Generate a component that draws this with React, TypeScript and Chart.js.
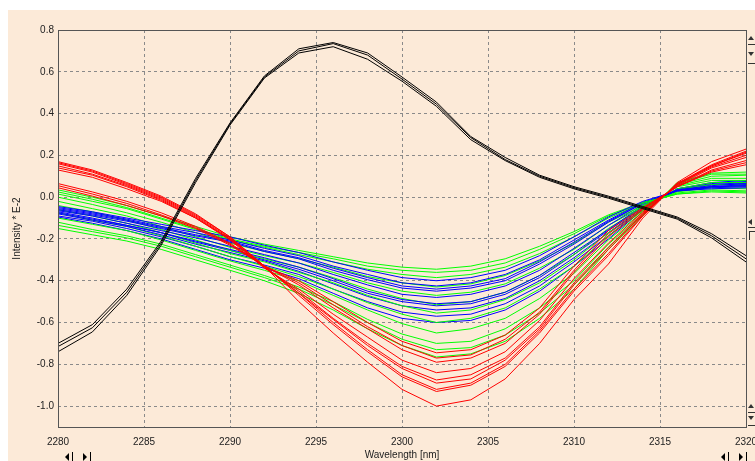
import React, { useEffect, useRef } from "react";
import { Chart, registerables } from "chart.js";

Chart.register(...registerables);

// ---------------- data ----------------
const WAVELENGTHS = [2280, 2282, 2284, 2286, 2288, 2290, 2292, 2294, 2296, 2298, 2300, 2302, 2304, 2306, 2308, 2310, 2312, 2314, 2316, 2318, 2320];
const X_TICKS = [2280, 2285, 2290, 2295, 2300, 2305, 2310, 2315, 2320];
const Y_TICKS = [-1.0, -0.8, -0.6, -0.4, -0.2, 0.0, 0.2, 0.4, 0.6, 0.8];

const BLACK_1 = [-0.70, -0.61, -0.44, -0.21, 0.09, 0.355, 0.58, 0.71, 0.74, 0.69, 0.575, 0.455, 0.29, 0.19, 0.105, 0.05, 0.005, -0.045, -0.095, -0.175, -0.28];
const BLACK_2 = [-0.74, -0.645, -0.47, -0.23, 0.07, 0.345, 0.57, 0.69, 0.72, 0.66, 0.555, 0.435, 0.275, 0.175, 0.095, 0.04, -0.005, -0.055, -0.105, -0.195, -0.31];
const BLACK_3 = [-0.715, -0.625, -0.455, -0.22, 0.08, 0.35, 0.575, 0.70, 0.735, 0.68, 0.565, 0.445, 0.285, 0.18, 0.10, 0.045, 0.0, -0.05, -0.10, -0.185, -0.295];

const RED_1 = [0.17, 0.13, 0.07, 0.005, -0.08, -0.19, -0.33, -0.50, -0.65, -0.79, -0.92, -1.00, -0.97, -0.87, -0.70, -0.49, -0.32, -0.10, 0.07, 0.17, 0.23];
const RED_2 = [0.165, 0.125, 0.065, 0.0, -0.085, -0.19, -0.33, -0.47, -0.61, -0.74, -0.86, -0.93, -0.90, -0.81, -0.65, -0.45, -0.28, -0.09, 0.065, 0.155, 0.22];
const RED_3 = [0.16, 0.12, 0.06, -0.005, -0.09, -0.195, -0.33, -0.46, -0.60, -0.73, -0.85, -0.92, -0.89, -0.80, -0.64, -0.44, -0.27, -0.085, 0.064, 0.15, 0.215];
const RED_4 = [0.15, 0.11, 0.055, -0.01, -0.095, -0.20, -0.335, -0.46, -0.585, -0.71, -0.82, -0.89, -0.87, -0.78, -0.63, -0.42, -0.25, -0.08, 0.06, 0.15, 0.21];
const RED_5 = [0.14, 0.105, 0.05, -0.015, -0.10, -0.20, -0.335, -0.45, -0.58, -0.70, -0.81, -0.875, -0.85, -0.77, -0.62, -0.41, -0.24, -0.075, 0.06, 0.145, 0.20];
const RED_6 = [0.13, 0.095, 0.04, -0.02, -0.10, -0.205, -0.34, -0.44, -0.56, -0.67, -0.78, -0.84, -0.82, -0.74, -0.59, -0.39, -0.22, -0.07, 0.055, 0.14, 0.19];
const RED_7 = [0.065, 0.025, -0.02, -0.075, -0.14, -0.22, -0.33, -0.42, -0.53, -0.63, -0.73, -0.79, -0.77, -0.70, -0.56, -0.36, -0.19, -0.06, 0.05, 0.13, 0.175];
const RED_8 = [0.055, 0.015, -0.03, -0.085, -0.145, -0.225, -0.33, -0.41, -0.515, -0.62, -0.71, -0.77, -0.755, -0.68, -0.55, -0.35, -0.175, -0.055, 0.05, 0.125, 0.165];
const RED_9 = [0.045, 0.005, -0.04, -0.09, -0.15, -0.23, -0.33, -0.40, -0.50, -0.60, -0.69, -0.745, -0.73, -0.66, -0.53, -0.33, -0.16, -0.05, 0.05, 0.12, 0.155];

const GREEN_1 = [0.035, 0.0, -0.04, -0.09, -0.14, -0.19, -0.225, -0.255, -0.285, -0.315, -0.335, -0.345, -0.33, -0.295, -0.235, -0.165, -0.085, -0.025, 0.015, 0.025, 0.02];
const GREEN_2 = [0.025, -0.01, -0.05, -0.10, -0.15, -0.20, -0.235, -0.265, -0.295, -0.33, -0.35, -0.36, -0.35, -0.315, -0.25, -0.175, -0.09, -0.03, 0.015, 0.03, 0.025];
const GREEN_3 = [0.015, -0.02, -0.055, -0.105, -0.155, -0.205, -0.24, -0.275, -0.31, -0.345, -0.37, -0.385, -0.37, -0.335, -0.27, -0.19, -0.10, -0.03, 0.02, 0.035, 0.03];
const GREEN_4 = [0.0, -0.035, -0.075, -0.12, -0.17, -0.22, -0.26, -0.295, -0.335, -0.38, -0.41, -0.43, -0.415, -0.375, -0.305, -0.22, -0.12, -0.04, 0.025, 0.045, 0.04];
const GREEN_5 = [-0.02, -0.055, -0.09, -0.14, -0.19, -0.24, -0.28, -0.315, -0.36, -0.41, -0.45, -0.47, -0.455, -0.415, -0.34, -0.25, -0.135, -0.045, 0.03, 0.05, 0.05];
const GREEN_6 = [-0.04, -0.07, -0.11, -0.155, -0.205, -0.255, -0.295, -0.335, -0.385, -0.44, -0.485, -0.515, -0.50, -0.455, -0.375, -0.275, -0.15, -0.05, 0.035, 0.06, 0.06];
const GREEN_7 = [-0.06, -0.09, -0.125, -0.17, -0.22, -0.27, -0.31, -0.36, -0.41, -0.47, -0.52, -0.555, -0.54, -0.49, -0.41, -0.30, -0.17, -0.06, 0.04, 0.07, 0.07];
const GREEN_8 = [-0.075, -0.11, -0.14, -0.185, -0.235, -0.285, -0.33, -0.38, -0.44, -0.505, -0.56, -0.60, -0.58, -0.53, -0.44, -0.33, -0.185, -0.065, 0.05, 0.08, 0.08];
const GREEN_9 = [-0.10, -0.13, -0.16, -0.205, -0.255, -0.305, -0.35, -0.40, -0.47, -0.54, -0.605, -0.65, -0.63, -0.58, -0.485, -0.365, -0.205, -0.07, 0.055, 0.09, 0.09];
const GREEN_10 = [-0.12, -0.155, -0.185, -0.225, -0.275, -0.325, -0.375, -0.43, -0.50, -0.585, -0.655, -0.70, -0.69, -0.63, -0.53, -0.40, -0.225, -0.08, 0.06, 0.10, 0.105];
const GREEN_11 = [-0.135, -0.165, -0.195, -0.235, -0.285, -0.335, -0.385, -0.44, -0.515, -0.60, -0.68, -0.73, -0.72, -0.66, -0.555, -0.42, -0.24, -0.085, 0.065, 0.11, 0.11];
const GREEN_12 = [-0.15, -0.18, -0.21, -0.25, -0.30, -0.35, -0.40, -0.46, -0.54, -0.63, -0.71, -0.765, -0.75, -0.69, -0.58, -0.44, -0.25, -0.09, 0.07, 0.115, 0.12];

const BLUE_1 = [-0.045, -0.07, -0.10, -0.13, -0.16, -0.19, -0.23, -0.265, -0.31, -0.35, -0.385, -0.40, -0.385, -0.35, -0.28, -0.19, -0.095, -0.02, 0.03, 0.04, 0.045];
const BLUE_2 = [-0.05, -0.075, -0.105, -0.14, -0.17, -0.205, -0.245, -0.28, -0.33, -0.37, -0.41, -0.425, -0.41, -0.37, -0.30, -0.205, -0.11, -0.025, 0.03, 0.045, 0.05];
const BLUE_3 = [-0.055, -0.08, -0.11, -0.145, -0.18, -0.21, -0.255, -0.29, -0.34, -0.385, -0.425, -0.44, -0.425, -0.39, -0.31, -0.215, -0.115, -0.03, 0.03, 0.05, 0.055];
const BLUE_4 = [-0.06, -0.085, -0.115, -0.15, -0.185, -0.215, -0.26, -0.295, -0.35, -0.395, -0.435, -0.45, -0.435, -0.40, -0.32, -0.225, -0.12, -0.03, 0.03, 0.05, 0.055];
const BLUE_5 = [-0.065, -0.09, -0.125, -0.16, -0.195, -0.235, -0.275, -0.315, -0.37, -0.42, -0.465, -0.48, -0.465, -0.425, -0.35, -0.245, -0.135, -0.035, 0.035, 0.05, 0.06];
const BLUE_6 = [-0.07, -0.10, -0.135, -0.17, -0.21, -0.25, -0.29, -0.335, -0.39, -0.45, -0.49, -0.51, -0.50, -0.455, -0.375, -0.265, -0.155, -0.04, 0.035, 0.055, 0.065];
const BLUE_7 = [-0.075, -0.105, -0.135, -0.17, -0.215, -0.255, -0.30, -0.345, -0.40, -0.46, -0.50, -0.52, -0.51, -0.465, -0.385, -0.275, -0.16, -0.045, 0.035, 0.06, 0.065];
const BLUE_8 = [-0.08, -0.11, -0.14, -0.18, -0.225, -0.265, -0.305, -0.355, -0.415, -0.475, -0.52, -0.54, -0.53, -0.485, -0.40, -0.29, -0.17, -0.05, 0.035, 0.06, 0.07];
const BLUE_9 = [-0.09, -0.115, -0.15, -0.19, -0.235, -0.285, -0.325, -0.37, -0.44, -0.50, -0.55, -0.57, -0.56, -0.51, -0.425, -0.31, -0.185, -0.055, 0.04, 0.065, 0.075];
const BLUE_10 = [-0.095, -0.125, -0.16, -0.20, -0.25, -0.30, -0.34, -0.39, -0.46, -0.53, -0.58, -0.60, -0.59, -0.54, -0.45, -0.33, -0.20, -0.06, 0.04, 0.07, 0.08];

const BLACK_SERIES = [BLACK_1, BLACK_2, BLACK_3];
const RED_SERIES = [RED_1, RED_2, RED_3, RED_4, RED_5, RED_6, RED_7, RED_8, RED_9];
const GREEN_SERIES = [GREEN_1, GREEN_2, GREEN_3, GREEN_4, GREEN_5, GREEN_6, GREEN_7, GREEN_8, GREEN_9, GREEN_10, GREEN_11, GREEN_12];
const BLUE_SERIES = [BLUE_1, BLUE_2, BLUE_3, BLUE_4, BLUE_5, BLUE_6, BLUE_7, BLUE_8, BLUE_9, BLUE_10];

// ---------------- styling ----------------
const BG = "rgb(252,234,216)";
const FONT = "'Liberation Sans', Arial, sans-serif";
const TEXT = "#222222";

function toPoints(values: number[]) {
  return WAVELENGTHS.map((x, i) => ({ x, y: values[i] }));
}

function tri(ctx: CanvasRenderingContext2D, pts: number[][]) {
  ctx.beginPath();
  ctx.moveTo(pts[0][0], pts[0][1]);
  for (let i = 1; i < pts.length; i++) ctx.lineTo(pts[i][0], pts[i][1]);
  ctx.closePath();
  ctx.fill();
}

function hline(ctx: CanvasRenderingContext2D, x1: number, x2: number, y: number) {
  ctx.beginPath();
  ctx.moveTo(x1, y + 0.5);
  ctx.lineTo(x2, y + 0.5);
  ctx.stroke();
}

function vline(ctx: CanvasRenderingContext2D, x: number, y1: number, y2: number) {
  ctx.beginPath();
  ctx.moveTo(x + 0.5, y1);
  ctx.lineTo(x + 0.5, y2);
  ctx.stroke();
}

const framePlugin = {
  id: "frame",
  afterDatasetsDraw(chart: any) {
    const { ctx, chartArea } = chart;
    const { left, top, right, bottom } = chartArea;
    ctx.save();
    ctx.strokeStyle = "#555555";
    ctx.lineWidth = 1;
    ctx.setLineDash([]);
    ctx.strokeRect(Math.round(left) + 0.5, Math.round(top) + 0.5, Math.round(right - left), Math.round(bottom - top));
    ctx.restore();
  },
  afterDraw(chart: any) {
    const { ctx } = chart;
    ctx.save();
    ctx.fillStyle = "#000000";
    ctx.strokeStyle = "#000000";
    ctx.lineWidth = 1;
    // bottom scroll widgets
    const widget = (x0: number) => {
      tri(ctx, [[x0, 447], [x0 + 4, 443], [x0 + 4, 451]]);
      vline(ctx, x0 + 7, 442, 451);
      tri(ctx, [[x0 + 18, 443], [x0 + 22, 447], [x0 + 18, 451]]);
      vline(ctx, x0 + 25, 442, 451);
    };
    widget(57);
    widget(713);
    // right side markers
    const xr = 740;
    ctx.strokeStyle = "#333333";
    ctx.fillStyle = "#333333";
    tri(ctx, [[xr + 3, 26], [xr, 30], [xr + 6, 30]]);
    hline(ctx, xr, 747, 34);
    tri(ctx, [[xr, 42], [xr + 6, 42], [xr + 3, 46]]);
    hline(ctx, xr, 747, 53);
    tri(ctx, [[xr, 212], [xr + 4, 209], [xr + 4, 215]]);
    hline(ctx, xr, 747, 217);
    vline(ctx, xr + 1, 221, 230);
    hline(ctx, xr + 1, 747, 221);
    tri(ctx, [[xr + 3, 394], [xr, 398], [xr + 6, 398]]);
    hline(ctx, xr, 747, 402);
    tri(ctx, [[xr, 406], [xr + 6, 406], [xr + 3, 410]]);
    hline(ctx, xr, 747, 415);
    ctx.restore();
  },
};

export default function App() {
  const ref = useRef<HTMLCanvasElement>(null);

  useEffect(() => {
    if (!ref.current) return;
    const mk = (s: number[], color: string) => ({
      data: toPoints(s),
      borderColor: color,
      backgroundColor: color,
      borderWidth: 1,
      pointRadius: 0,
      tension: 0,
      fill: false,
    });
    const datasets: any[] = [];
    BLACK_SERIES.forEach((s) => datasets.push(mk(s, "#000000")));
    RED_SERIES.forEach((s) => datasets.push(mk(s, "#ff0000")));
    const n = Math.max(GREEN_SERIES.length, BLUE_SERIES.length);
    for (let i = 0; i < n; i++) {
      if (BLUE_SERIES[i]) datasets.push(mk(BLUE_SERIES[i], "#0000ff"));
      if (GREEN_SERIES[i]) datasets.push(mk(GREEN_SERIES[i], "#00ff00"));
    }

    const chart = new Chart(ref.current, {
      type: "line",
      data: { datasets },
      options: {
        animation: false,
        responsive: false,
        events: [],
        layout: { padding: { top: 20, right: 9, left: 0, bottom: 0 } },
        plugins: { legend: { display: false }, tooltip: { enabled: false } },
        scales: {
          x: {
            type: "linear",
            min: 2280,
            max: 2320,
            afterBuildTicks: (s: any) => {
              s.ticks = X_TICKS.map((v) => ({ value: v }));
            },
            afterFit: (s: any) => {
              s.height = 34;
              s.paddingLeft = 0;
              s.paddingRight = 0;
            },
            grid: { color: "#8a8a8a", lineWidth: 1, drawTicks: false },
            border: { display: false, dash: [3, 3] },
            ticks: {
              padding: 9,
              autoSkip: false,
              maxRotation: 0,
              color: TEXT,
              font: { family: FONT, size: 10 },
              callback: (v: any) => String(v),
            },
            title: {
              display: true,
              text: "Wavelength [nm]",
              color: TEXT,
              font: { family: FONT, size: 10 },
              padding: { top: 0, bottom: 0 },
            },
          },
          y: {
            type: "linear",
            min: -1.1,
            max: 0.8,
            afterBuildTicks: (s: any) => {
              s.ticks = Y_TICKS.map((v) => ({ value: v }));
            },
            afterFit: (s: any) => {
              s.width = 50;
            },
            grid: { color: "#8a8a8a", lineWidth: 1, drawTicks: false },
            border: { display: false, dash: [3, 3] },
            ticks: {
              padding: 4,
              color: TEXT,
              font: { family: FONT, size: 10 },
              callback: (v: any) => Number(v).toFixed(1),
            },
            title: {
              display: true,
              text: "Intensity * E-2",
              color: TEXT,
              font: { family: FONT, size: 10 },
              padding: { top: 3, bottom: 0 },
            },
          },
        },
      },
      plugins: [framePlugin],
    } as any);

    return () => chart.destroy();
  }, []);

  return (
    <div style={{ position: "absolute", left: 8, top: 10, width: 747, height: 451, background: BG }}>
      <canvas ref={ref} width={747} height={451} style={{ display: "block", width: 747, height: 451 }} />
    </div>
  );
}
